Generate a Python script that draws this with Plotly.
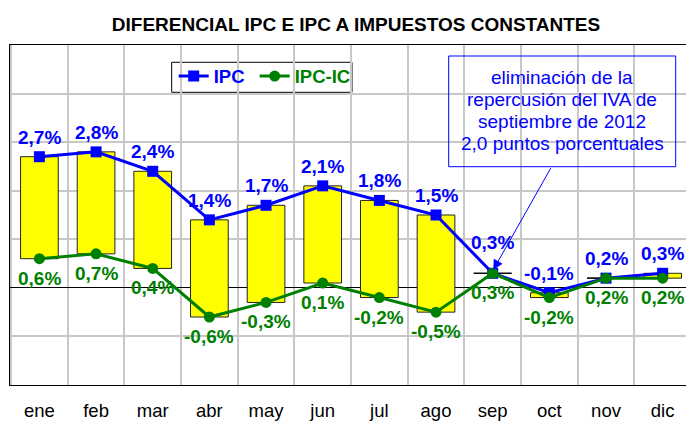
import plotly.graph_objects as go

# ---- data ----
months = ["ene", "feb", "mar", "abr", "may", "jun", "jul", "ago", "sep", "oct", "nov", "dic"]
ipc = [2.7, 2.8, 2.4, 1.4, 1.7, 2.1, 1.8, 1.5, 0.3, -0.1, 0.2, 0.3]
ipc_ic = [0.6, 0.7, 0.4, -0.6, -0.3, 0.1, -0.2, -0.5, 0.3, -0.2, 0.2, 0.2]
y_ticks = [-2, -1, 0, 1, 2, 3, 4, 5]
title_text = "DIFERENCIAL IPC E IPC A IMPUESTOS CONSTANTES"
note_lines = ["eliminación de la", "repercusión del IVA de",
              "septiembre de 2012", "2,0 puntos porcentuales"]
note_month = "sep"

# ---- style ----
BLUE = "#0000FF"
GREEN = "#008000"
YELLOW = "#FFFF00"
GRID = "#c8c8c8"
FONT = "Liberation Sans, Arial, sans-serif"
W, H = 686, 421
ML, MR, MT, MB = 10, 0, 45, 36
PW, PH = W - ML - MR, H - MT - MB
extra_label_shift = {8: 11}   # sep IPC label sits higher in the original


def fmt(v):
    return f"{v:.1f}".replace(".", ",") + "%"


def px_x(p):  # pixel -> paper x
    return (p - ML) / PW


def px_y(p):  # pixel -> paper y
    return (H - MB - p) / PH


diff = [round(a - b, 4) for a, b in zip(ipc, ipc_ic)]
flat = [i for i, d in enumerate(diff) if d == 0]

fig = go.Figure()
fig.add_trace(go.Bar(
    x=months, y=diff, base=ipc_ic, width=0.665,
    marker=dict(color=YELLOW, line=dict(color="#222222", width=1)),
    showlegend=False, hoverinfo="skip"))
fig.add_trace(go.Scatter(
    x=[months[i] for i in flat], y=[ipc[i] for i in flat], mode="markers",
    marker=dict(symbol="line-ew", size=27, line=dict(color="black", width=1)),
    showlegend=False, hoverinfo="skip"))
fig.add_trace(go.Scatter(
    x=months, y=ipc, mode="lines+markers",
    name=f'<b><span style="color:{BLUE}">IPC\u00a0</span></b>',
    line=dict(color=BLUE, width=3),
    marker=dict(symbol="square", size=11, color=BLUE)))
fig.add_trace(go.Scatter(
    x=months, y=ipc_ic, mode="lines+markers",
    name=f'<b><span style="color:{GREEN}">IPC-IC</span></b>',
    line=dict(color=GREEN, width=3),
    marker=dict(symbol="circle", size=11, color=GREEN)))

annotations = []
for i, v in enumerate(ipc):
    annotations.append(dict(
        x=i, y=v, xref="x", yref="y", text=f"<b>{fmt(v)}</b>", showarrow=False,
        xanchor="center", yanchor="bottom", yshift=7 + extra_label_shift.get(i, 0),
        font=dict(family=FONT, size=19, color=BLUE)))
for i, v in enumerate(ipc_ic):
    annotations.append(dict(
        x=i, y=v, xref="x", yref="y", text=f"<b>{fmt(v)}</b>", showarrow=False,
        xanchor="center", yanchor="top", yshift=-7,
        font=dict(family=FONT, size=19, color=GREEN)))

# note text lines
note_centers_px = [77.5, 99.5, 121.5, 143.5]
for line, cy in zip(note_lines, note_centers_px):
    annotations.append(dict(
        x=px_x(562), y=px_y(cy), xref="paper", yref="paper", text=line,
        showarrow=False, xanchor="center", yanchor="middle",
        font=dict(family=FONT, size=19, color=BLUE)))

# arrow from note box to sep point
si = months.index(note_month)
annotations.append(dict(
    x=si + 0.01, y=ipc[si] + 0.07, xref="x", yref="y",
    ax=9.04, ay=2.495, axref="x", ayref="y",
    text="", showarrow=True, arrowhead=2, arrowsize=2, arrowwidth=1,
    arrowcolor=BLUE, standoff=0))

shapes = [
    # note box
    dict(type="rect", xref="paper", yref="paper",
         x0=px_x(448.7), x1=px_x(675.7), y0=px_y(166.7), y1=px_y(56),
         line=dict(color=BLUE, width=1), fillcolor="rgba(0,0,0,0)"),
    # legend frame (white, hides grid)
    dict(type="rect", xref="paper", yref="paper", layer="between",
         x0=px_x(171.7), x1=px_x(352), y0=px_y(92.3), y1=px_y(62.3),
         line=dict(color="black", width=1), fillcolor="white"),
]

fig.update_layout(
    width=W, height=H,
    margin=dict(l=ML, r=MR, t=MT, b=MB, autoexpand=False),
    paper_bgcolor="white", plot_bgcolor="white",
    font=dict(family=FONT, color="black"),
    title=dict(text=f"<b>{title_text}</b>", x=356 / W, xanchor="center",
               y=1 - 24.5 / H, yanchor="middle", xref="container", yref="container",
               font=dict(family=FONT, size=19, color="black")),
    showlegend=True,
    legend=dict(orientation="h", x=px_x(173.7), y=px_y(57.5), xanchor="left", yanchor="top",
                bgcolor="rgba(0,0,0,0)", borderwidth=0,
                font=dict(family=FONT, size=18.5), itemwidth=30, traceorder="normal"),
    annotations=annotations,
    shapes=shapes,
)
fig.update_xaxes(
    type="category", range=[-0.519, 11.412], tickson="boundaries",
    showgrid=True, gridcolor=GRID, gridwidth=1.5,
    ticks="", ticklabelstandoff=9, automargin=False,
    tickfont=dict(family=FONT, size=18.5, color="black"),
    showline=True, linecolor="black", linewidth=1.2, mirror=True, fixedrange=True)
fig.update_yaxes(
    range=[-2, 5], tickvals=y_ticks, showticklabels=False, automargin=False,
    showgrid=True, gridcolor=GRID, gridwidth=1.5,
    zeroline=True, zerolinecolor="black", zerolinewidth=1,
    showline=True, linecolor="black", linewidth=1.2, ticks="", fixedrange=True)

fig.write_html("out.html", config={"displayModeBar": False},
               post_script="document.body.style.margin='0px';document.body.style.overflow='hidden';")
